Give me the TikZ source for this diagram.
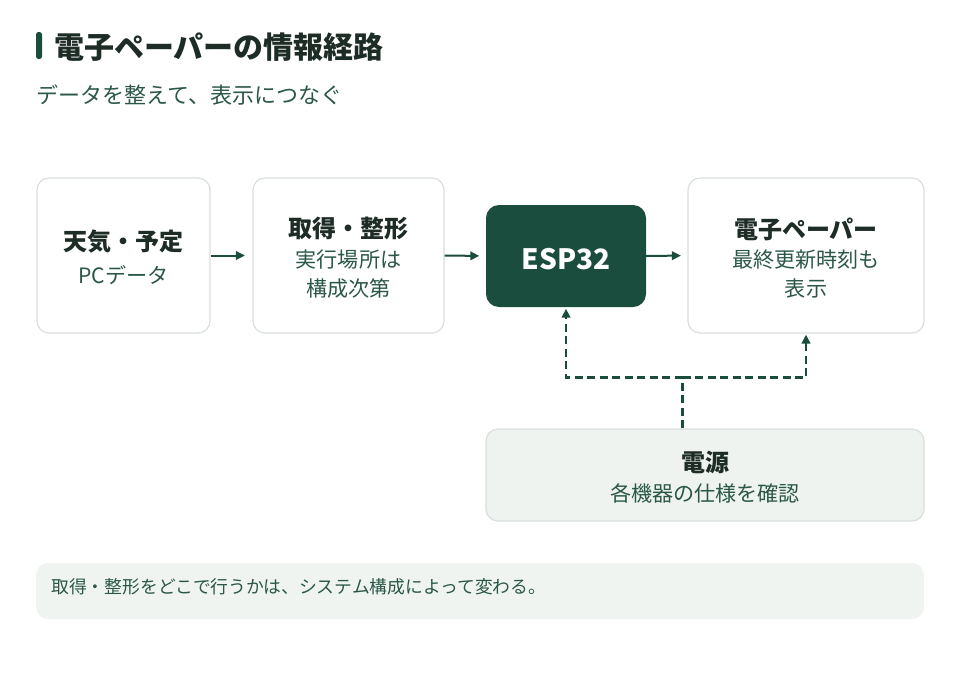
\documentclass[tikz,border=0pt]{standalone}
\usepackage{fontspec}
\setmainfont{Noto Sans CJK JP}
\usetikzlibrary{arrows.meta}
\definecolor{dgreen}{HTML}{1B4D3E}
\definecolor{titlec}{HTML}{1E2C26}
\definecolor{subc}{HTML}{2A5748}
\definecolor{bordc}{HTML}{D9DFDC}
\definecolor{pfill}{HTML}{EEF3EF}
\definecolor{nfill}{HTML}{F0F4F1}
\tikzset{
  box/.style={draw=bordc, line width=1.2pt, fill=white, rounded corners=12pt, inner sep=0pt},
  espbox/.style={fill=dgreen, rounded corners=13pt, inner sep=0pt},
  pbox/.style={draw=bordc, line width=1.2pt, fill=pfill, rounded corners=12pt, inner sep=0pt},
  nbox/.style={fill=nfill, rounded corners=12pt, inner sep=0pt},
  hd/.style={inner sep=0pt, text=titlec, font=\fontsize{24}{28}\selectfont\bfseries},
  sb/.style={inner sep=0pt, text=subc, font=\fontsize{21.1}{25}\selectfont},
  arr/.style={draw=dgreen, line width=2pt, -{Triangle[length=9pt,width=8.5pt]}},
  darr/.style={draw=dgreen, line width=2.3pt, dash pattern=on 8pt off 4.5pt, -{Triangle[length=9pt,width=8.5pt]}},
  dln/.style={draw=dgreen, line width=2.3pt, dash pattern=on 8pt off 4.5pt},
}
\begin{document}
\begin{tikzpicture}[x=1pt,y=-1pt]
\useasboundingbox (0,0) rectangle (960,672);
% title
\fill[dgreen, rounded corners=2.5pt] (36,32) rectangle (42,59);
\node[anchor=west, inner sep=0pt, text=titlec, font=\fontsize{30}{34}\selectfont\bfseries] (title) at (54,47) {電子ペーパーの情報経路};
\node[anchor=west, inner sep=0pt, text=subc, font=\fontsize{22}{26}\selectfont] (subtitle) at (36,95) {データを整えて、表示につなぐ};
% boxes
\node[box, minimum width=173pt, minimum height=155pt] (b1) at (123.5,255.5) {};
\node[box, minimum width=191pt, minimum height=155pt] (b2) at (348.5,255.5) {};
\node[espbox, minimum width=160pt, minimum height=102pt] (esp) at (566,256) {};
\node[box, minimum width=236pt, minimum height=155pt] (b4) at (806,255.5) {};
\node[pbox, minimum width=438pt, minimum height=92pt] (pw) at (705,475) {};
\node[nbox, minimum width=888pt, minimum height=56pt] (note) at (480,591) {};
% texts
\node[hd] (t1a) at (123.5,242) {天気・予定};
\node[sb] (t1b) at (123.5,275) {PCデータ};
\node[hd] (t2a) at (348.5,228) {取得・整形};
\node[sb] (t2b) at (348.5,260) {実行場所は};
\node[sb] (t2c) at (348.5,288.5) {構成次第};
\node[inner sep=0pt, text=white, font=\fontsize{28}{32}\selectfont\bfseries] (t3) at (566,259) {ESP32};
\node[hd] (t4a) at (806,229) {電子ペーパー};
\node[sb] (t4b) at (806,260) {最終更新時刻も};
\node[sb] (t4c) at (806,288.5) {表示};
\node[hd] (t5a) at (705,462) {電源};
\node[sb] (t5b) at (705,493.5) {各機器の仕様を確認};
\node[anchor=west, inner sep=0pt, text=subc, font=\fontsize{17.8}{22}\selectfont] (t6) at (51,587) {取得・整形をどこで行うかは、システム構成によって変わる。};
% arrows
\draw[arr, shorten >=7.5pt] (b1.east) -- (b2.west);
\draw[arr, shorten >=6.5pt] (b2.east) -- (esp.west);
\draw[arr, shorten >=6.5pt] (esp.east) -- (b4.west);
% dashed power lines
\coordinate (j) at (682.5,377.5);
\draw[dln] (pw.north -| j) -- (j);
\draw[darr, shorten >=1.5pt] (j) -| (esp.south);
\draw[darr, shorten >=1pt] (j) -| (b4.south);
\end{tikzpicture}
\end{document}
